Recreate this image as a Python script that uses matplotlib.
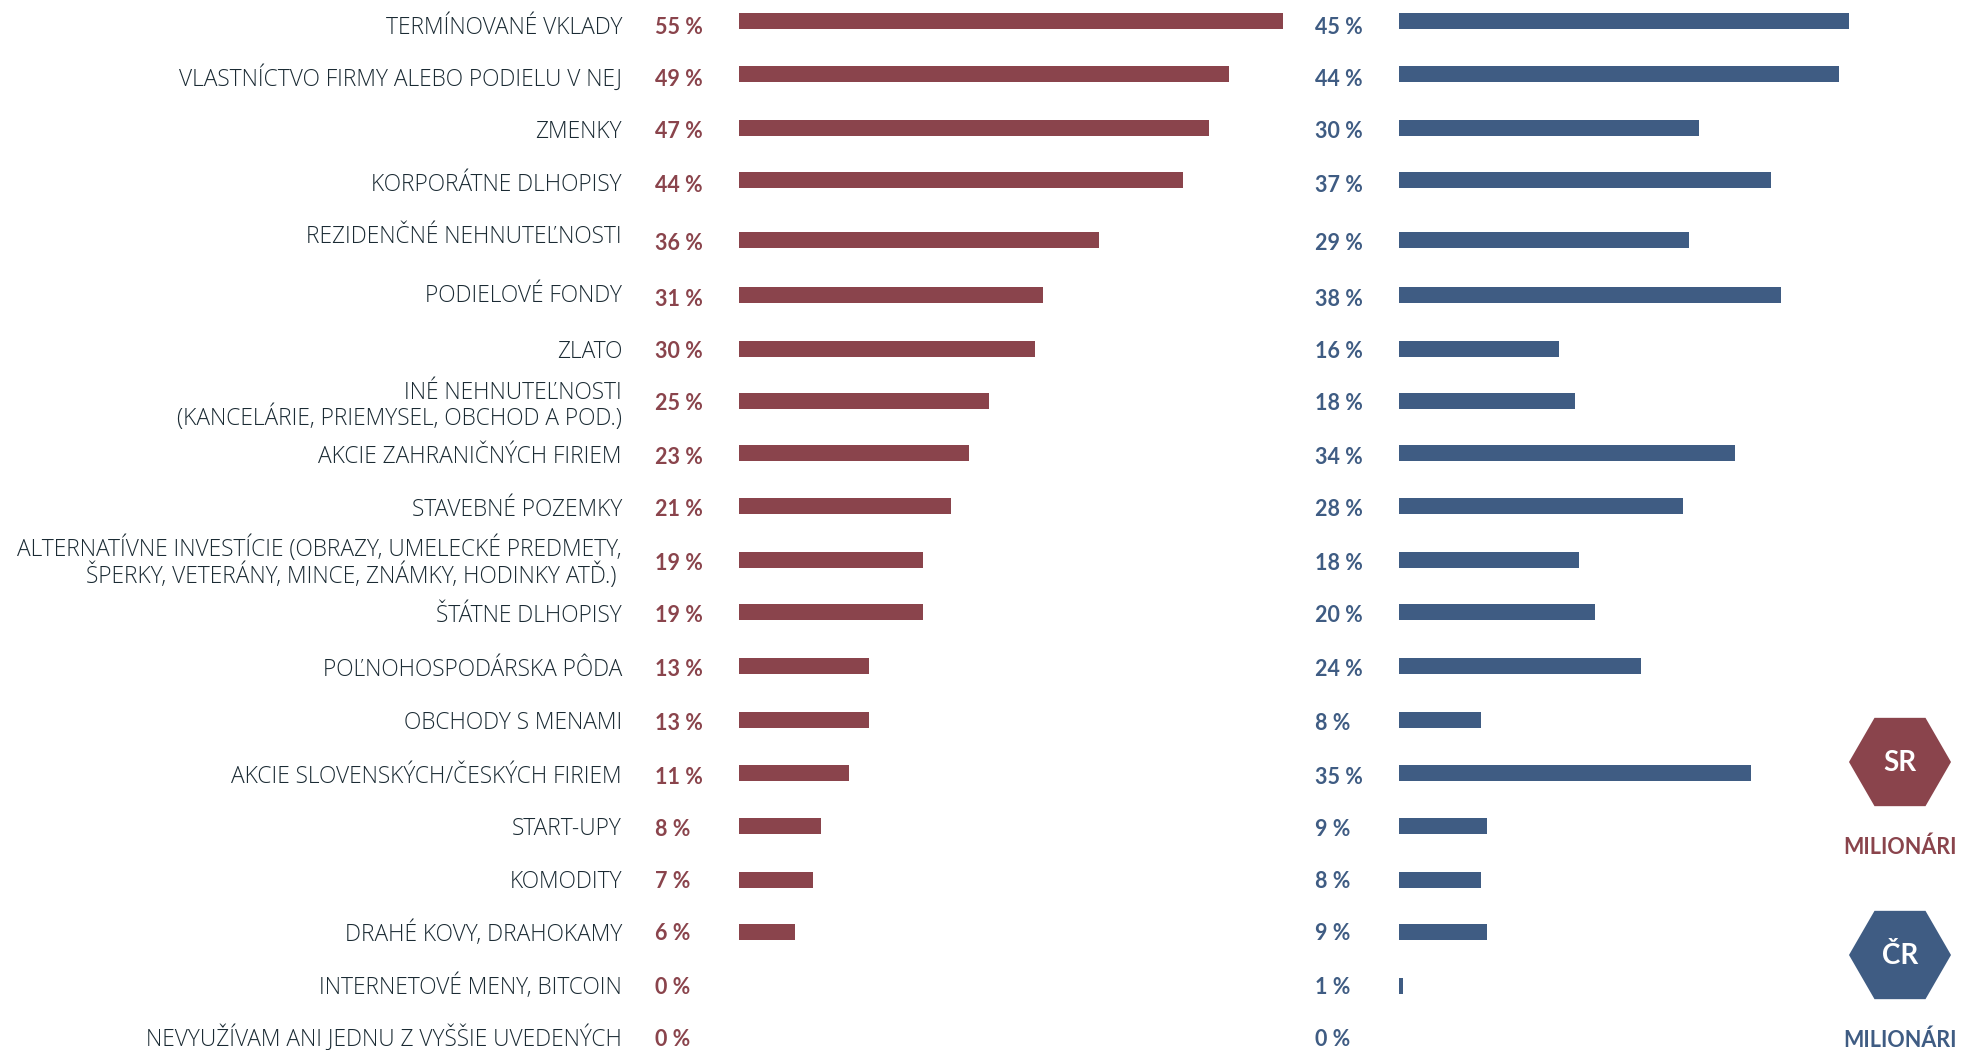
import matplotlib
matplotlib.use("Agg")
import matplotlib.pyplot as plt
from matplotlib.patches import RegularPolygon

W, H = 1962, 1050

kategorie = [
    "TERMÍNOVANÉ VKLADY", "VLASTNÍCTVO FIRMY ALEBO PODIELU V NEJ", "ZMENKY",
    "KORPORÁTNE DLHOPISY", "REZIDENČNÉ NEHNUTEĽNOSTI", "PODIELOVÉ FONDY", "ZLATO",
    "INÉ NEHNUTEĽNOSTI\n(KANCELÁRIE, PRIEMYSEL, OBCHOD A POD.)",
    "AKCIE ZAHRANIČNÝCH FIRIEM", "STAVEBNÉ POZEMKY",
    "ALTERNATÍVNE INVESTÍCIE (OBRAZY, UMELECKÉ PREDMETY,\nŠPERKY, VETERÁNY, MINCE, ZNÁMKY, HODINKY ATĎ.) ",
    "ŠTÁTNE DLHOPISY", "POĽNOHOSPODÁRSKA PÔDA", "OBCHODY S MENAMI",
    "AKCIE SLOVENSKÝCH/ČESKÝCH FIRIEM", "START-UPY", "KOMODITY",
    "DRAHÉ KOVY, DRAHOKAMY", "INTERNETOVÉ MENY, BITCOIN",
    "NEVYUŽÍVAM ANI JEDNU Z VYŠŠIE UVEDENÝCH",
]
sr = [54.4, 49, 47, 44.4, 36, 30.4, 29.6, 25, 23, 21.2, 18.4, 18.4, 13, 13, 11, 8.2, 7.4, 5.6, 0, 0]
cr = [45, 44, 30, 37.2, 29, 38.2, 16, 17.6, 33.6, 28.4, 18, 19.6, 24.2, 8.2, 35.2, 8.8, 8.2, 8.8, 0.4, 0]
sr_text = ["55 %", "49 %", "47 %", "44 %", "36 %", "31 %", "30 %", "25 %", "23 %", "21 %",
           "19 %", "19 %", "13 %", "13 %", "11 %", "8 %", "7 %", "6 %", "0 %", "0 %"]
cr_text = ["45 %", "44 %", "30 %", "37 %", "29 %", "38 %", "16 %", "18 %", "34 %", "28 %",
           "18 %", "20 %", "24 %", "8 %", "35 %", "9 %", "8 %", "9 %", "1 %", "0 %"]

riadky = [21, 74, 128, 180, 240, 295, 349, 401, 453, 506, 560, 612, 666, 720, 773, 826, 880, 932, 986, 1038]
y_popis = [26, 77, 130, 183, 235, 294, 350, 404, 455, 508, 560, 614, 668, 721, 775, 827, 880, 932, 985, 1037]
y_pct = [25, 78, 130, 183, 241, 298, 349, 402, 455, 508, 562, 613, 667, 721, 775, 827, 880, 932, 985, 1037]

CERVENA = "#8a444c"
MODRA = "#3f5c83"
TEXT = "#1a2a33"

plt.rcParams["font.family"] = ["Lato", "DejaVu Sans"]

fig = plt.figure(figsize=(W / 100, H / 100), dpi=100, facecolor="white")


def panel(x0, x1, xmax):
    a = fig.add_axes([x0 / W, 0, (x1 - x0) / W, 1])
    a.set_xlim(0, xmax)
    a.set_ylim(H, 0)
    a.axis("off")
    return a


ax1 = panel(739, 1289, 55)
ax2 = panel(1399, 1949, 55)
ax1.barh(riadky, sr, height=16, color=CERVENA)
ax2.barh(riadky, cr, height=16, color=MODRA)

bg = fig.add_axes([0, 0, 1, 1], zorder=3)
bg.set_xlim(0, W)
bg.set_ylim(H, 0)
bg.axis("off")

for k, a, b, yp, yc in zip(kategorie, sr_text, cr_text, y_popis, y_pct):
    bg.text(622, yp + 2, k, ha="right", va="center", fontsize=16.4, color=TEXT,
            family=["Open Sans", "DejaVu Sans"], fontweight="light", fontstretch="normal", linespacing=1.0)
    bg.text(655, yc + 2, a, ha="left", va="center", fontsize=15.5, color=CERVENA, fontweight="bold")
    bg.text(1315, yc + 2, b, ha="left", va="center", fontsize=15.5, color=MODRA, fontweight="bold")

for y, farba, znacka in [(762, CERVENA, "SR"), (955, MODRA, "ČR")]:
    bg.add_patch(RegularPolygon((1900, y), 6, radius=51, orientation=0.5236, color=farba, lw=0))
    bg.text(1900, y + 1, znacka, ha="center", va="center", fontsize=20, color="white", fontweight="bold")
    bg.text(1900, y + 85, "MILIONÁRI", ha="center", va="center", fontsize=15.5, color=farba, fontweight="bold")

fig.savefig("out.png", dpi=100)
